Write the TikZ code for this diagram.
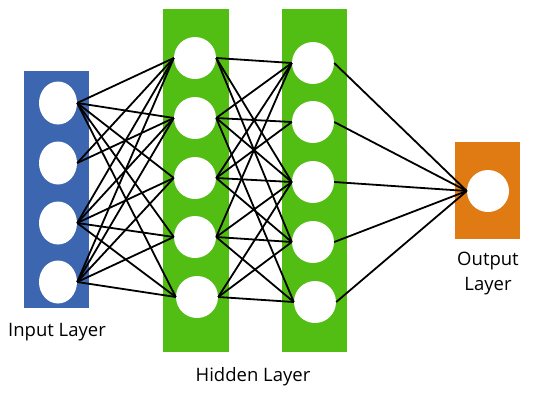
\documentclass[tikz,border=0pt]{standalone}
\usepackage{fontspec}
\setmainfont{Open Sans}
\usetikzlibrary{shapes.geometric}
\definecolor{inblue}{HTML}{3D66B0}
\definecolor{hidgreen}{HTML}{52BE14}
\definecolor{outorange}{HTML}{E07A12}
\begin{document}
\begin{tikzpicture}[x=1pt,y=-1pt,
  neuron/.style={ellipse,fill=white,draw=none,inner sep=0,minimum width=42pt,minimum height=42pt},
  inneuron/.style={neuron,minimum width=38pt,minimum height=43pt},
  link/.style={line width=1.8pt,black},
  lbl/.style={font=\fontsize{18.5}{25}\selectfont,inner sep=0,align=center}]
\useasboundingbox (0,0) rectangle (550,400);
% layer boxes
\fill[inblue] (24,71) rectangle (89,308);
\fill[hidgreen] (163,9) rectangle (229,352);
\fill[hidgreen] (282,9) rectangle (347,352);
\fill[outorange] (455,142) rectangle (520,239);
% neurons
\node[inneuron] (i1) at (58,103) {};
\node[inneuron] (i2) at (58,163) {};
\node[inneuron] (i3) at (58,223) {};
\node[inneuron] (i4) at (58,282) {};
\node[neuron] (a1) at (195,58) {};
\node[neuron] (a2) at (195,118) {};
\node[neuron] (a3) at (195,178) {};
\node[neuron] (a4) at (195,237) {};
\node[neuron] (a5) at (197,297) {};
\node[neuron] (b1) at (313,63) {};
\node[neuron] (b2) at (313,122) {};
\node[neuron] (b3) at (313,182) {};
\node[neuron] (b4) at (313,242) {};
\node[neuron] (b5) at (315,302) {};
\node[neuron] (o1) at (488,191) {};
% input -> hidden 1
\foreach \i/\j in {1/1,1/2,1/3,1/4,1/5,2/1,2/2,3/1,3/2,3/3,3/4,3/5,4/1,4/2,4/3,4/4,4/5}
  {\draw[link] (i\i.east) -- (a\j.west);}
% hidden 1 -> hidden 2
\foreach \i/\j in {1/1,1/3,1/4,2/1,2/2,2/3,2/5,3/1,3/2,3/3,3/4,4/1,4/3,4/4,4/5,5/3,5/4,5/5}
  {\draw[link] (a\i.east) -- (b\j.west);}
% hidden 2 -> output
\foreach \i in {1,...,5}{\draw[link] (b\i.east) -- (o1.west);}
% labels
\node[lbl] (lin) at (57,332) {Input Layer};
\node[lbl] (lhid) at (253,377) {Hidden Layer};
\node[lbl] (lout) at (488,274) {Output\\Layer};
\end{tikzpicture}
\end{document}
